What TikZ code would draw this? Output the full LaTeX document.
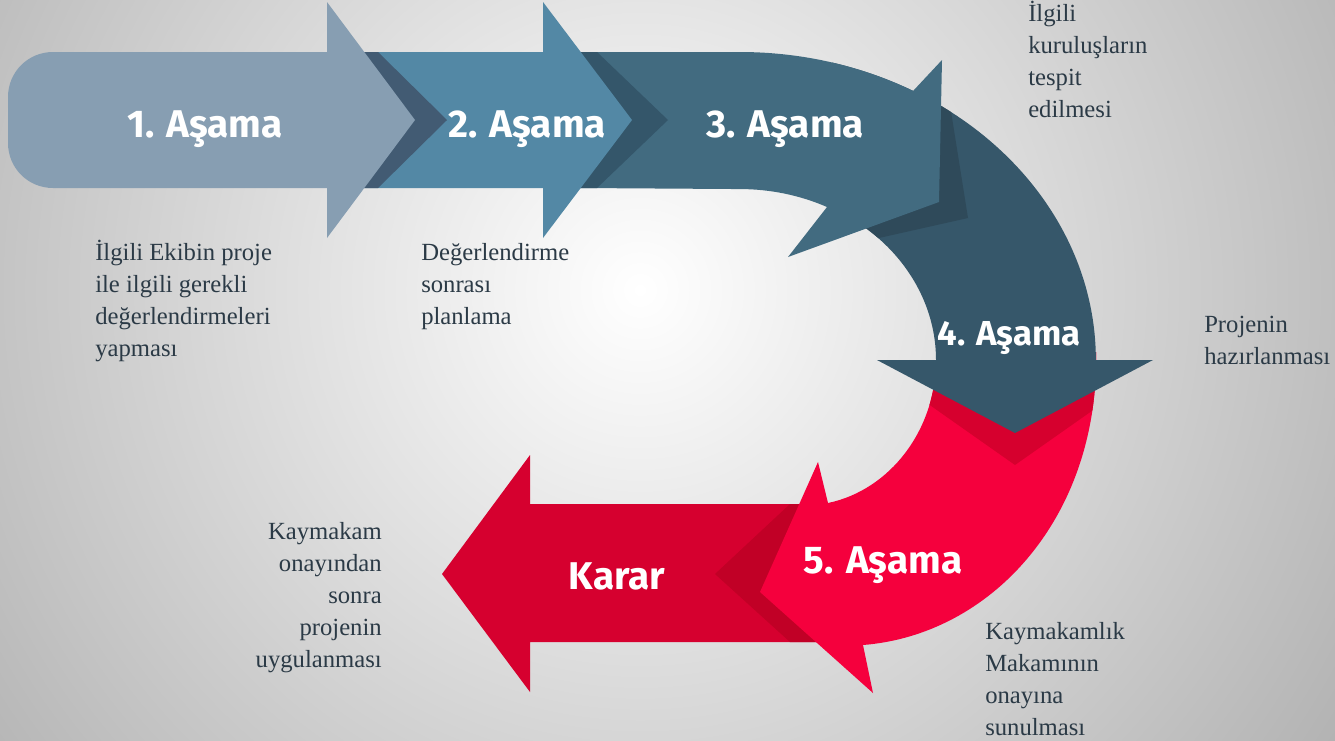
\documentclass[tikz,border=0pt]{standalone}
\usepackage{fontspec}
\setmainfont{Liberation Serif}
\newfontfamily\labelfont{Fira Sans}

\definecolor{bgedge}{RGB}{176,176,176}
\definecolor{stepone}{RGB}{135,158,178}
\definecolor{oneshd}{RGB}{66,91,115}
\definecolor{steptwo}{RGB}{83,136,165}
\definecolor{twoshd}{RGB}{52,86,106}
\definecolor{stepthree}{RGB}{66,107,128}
\definecolor{threeshd}{RGB}{47,74,90}
\definecolor{stepfour}{RGB}{54,87,106}
\definecolor{fourshd}{RGB}{214,0,46}
\definecolor{stepfive}{RGB}{245,0,61}
\definecolor{kararcol}{RGB}{214,0,47}
\definecolor{kararshd}{RGB}{193,0,38}
\definecolor{notecol}{RGB}{43,58,70}

\tikzset{
  stagelbl/.style={anchor=base, inner sep=0pt, text=white, font=\labelfont\bfseries\fontsize{29}{31}\selectfont},
  notetxt/.style={anchor=base west, align=left, inner sep=0pt, text=notecol, font=\fontsize{18.5}{24}\selectfont}
}

\begin{document}
\begin{tikzpicture}[x=0.75pt,y=0.75pt,yscale=-1,xscale=1]
\useasboundingbox (0,0) rectangle (1335,740);

%Background
\begin{scope}
\clip (0,0) rectangle (1335,740);
\shade[inner color=white,outer color=bgedge] (640,290) circle [radius=860];
\end{scope}

%Shape: Karar arrow, with the shadow of the 5. head
\fill[kararcol, path picture={\fill[kararshd] (790,504) -- (715,574) -- (790,642) -- (850,642) -- (850,504) -- cycle;}] (850,504) -- (530,504) -- (530,455) -- (442,574) -- (530,692) -- (530,642) -- (850,642) -- cycle;
%Shape: 5. stage, with the shadow of the 4. head
\fill[stepfive, path picture={\fill[fourshd] (880,370) -- (1015,465) -- (1150,370) -- (1150,330) -- (880,330) -- cycle;}] (1096,352) -- (1096,360) .. controls (1096,520) and (990,635) .. (863,645) -- (873,693) -- (760,592) -- (818,462) -- (828,503) .. controls (890,490) and (936,430) .. (936,360) -- (936,352) -- cycle;
%Shape: 4. stage, with the shadow of the 3. head
\fill[stepfour, path picture={\fill[threeshd] (930,80) -- (946,80) -- (968,218) -- (870,240) -- (850,200) -- cycle;}] (832,62.5) arc[start angle=-75,end angle=0,x radius=356,y radius=308] -- (1153,360) -- (1015,433) -- (877,360) -- (936,360) arc[start angle=0,end angle=-75,x radius=196,y radius=172] -- cycle;
%Shape: 3. stage, with the shadow of the 2. head
\fill[stepthree, path picture={\fill[twoshd] (560,52) -- (597,52) -- (668,120) -- (597,188) -- (560,188) -- cycle;}] (580,52) -- (740,52) arc[start angle=-90,end angle=-60.9,x radius=356,y radius=308] -- (942,60) -- (939,202) -- (788,257) -- (827,207) arc[start angle=-63.6,end angle=-90,x radius=196,y radius=172] -- (580,188) -- cycle;
%Shape: 2. stage, with the shadow of the 1. head
\fill[steptwo, path picture={\fill[oneshd] (340,52) -- (378,52) -- (447,120) -- (378,188) -- (340,188) -- cycle;}] (364,52) -- (543,52) -- (543,2) -- (632,120) -- (543,238) -- (543,188) -- (364,188) -- cycle;
%Shape: 1. stage
\fill[stepone] (53,52) -- (327,52) -- (327,2) -- (415,120) -- (327,238) -- (327,188) -- (53,188) .. controls (28,188) and (8,168) .. (8,143) -- (8,97) .. controls (8,72) and (28,52) .. (53,52) -- cycle;

% Stage labels
\node[stagelbl] (s1) at (205,137) {1. Aşama};
\node[stagelbl] (s2) at (527,137) {2. Aşama};
\node[stagelbl] (s3) at (785,137) {3. Aşama};
\node[stagelbl, font=\labelfont\bfseries\fontsize{26}{28}\selectfont] (s4) at (1009,345) {4. Aşama};
\node[stagelbl] (s5) at (883,573) {5. Aşama};
\node[stagelbl] (karar) at (617,589) {Karar};

% Text Node (base = last line)
\node[notetxt] (n1) at (95,356) {İlgili Ekibin proje\\ile ilgili gerekli\\değerlendirmeleri\\yapması};
% Text Node
\node[notetxt] (n2) at (421,324) {Değerlendirme\\sonrası\\planlama};
% Text Node
\node[notetxt] (n3) at (1028,117) {İlgili\\kuruluşların\\tespit\\edilmesi};
% Text Node
\node[notetxt] (n4) at (1204,364) {Projenin\\hazırlanması};
% Text Node
\node[notetxt] (n5) at (985,735) {Kaymakamlık\\Makamının\\onayına\\sunulması};
% Text Node
\node[notetxt, anchor=base east, align=right] (n6) at (382,667) {Kaymakam\\onayından\\sonra\\projenin\\uygulanması};

\end{tikzpicture}
\end{document}
